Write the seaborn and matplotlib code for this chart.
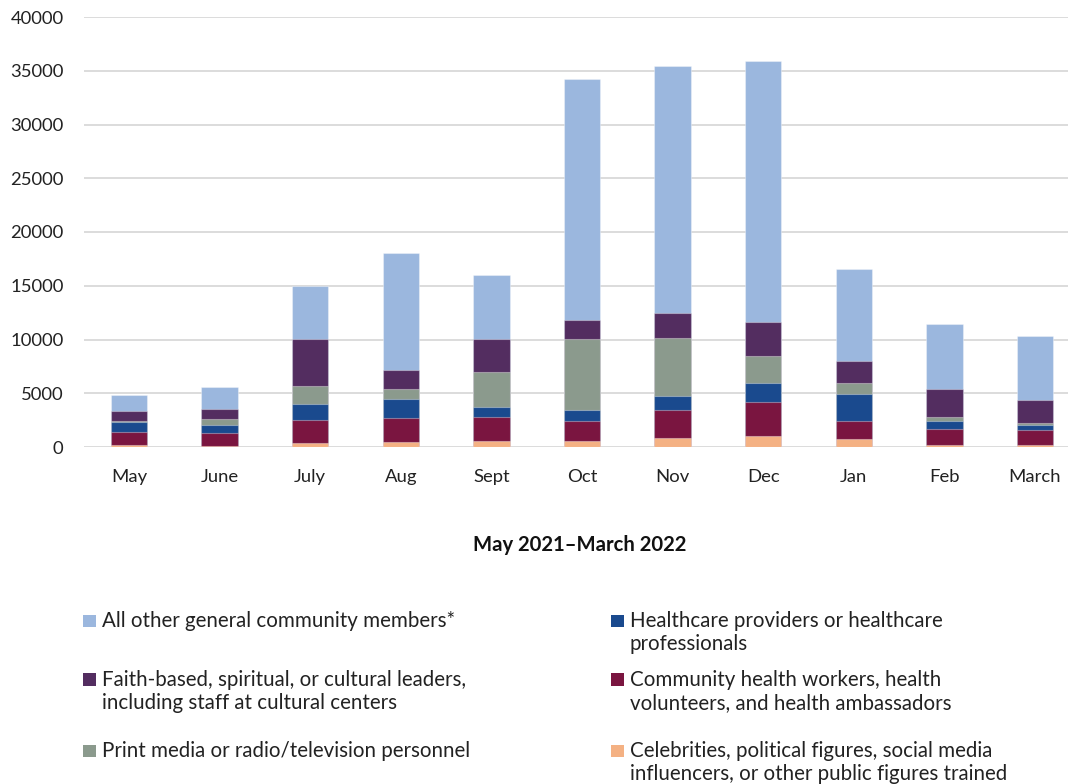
import numpy as np
import pandas as pd
import matplotlib
matplotlib.use("Agg")
import matplotlib.pyplot as plt
from matplotlib.patches import Rectangle
import seaborn as sns

months = ["May", "June", "July", "Aug", "Sept", "Oct", "Nov", "Dec", "Jan", "Feb", "March"]

# Groups reached per month (stacked bottom to top)
celebrities = [150, 60, 400, 460, 590, 560, 870, 1050, 710, 220, 220]
community_health = [1240, 1270, 2130, 2260, 2230, 1890, 2600, 3160, 1730, 1450, 1330]
healthcare = [930, 710, 1450, 1730, 900, 990, 1270, 1760, 2470, 710, 460]
print_media = [120, 590, 1700, 950, 3280, 6650, 5440, 2500, 1050, 370, 220]
faith_based = [930, 900, 4360, 1800, 3090, 1760, 2260, 3160, 2070, 2600, 2100]
general_community = [1450, 2040, 4980, 10800, 5880, 22350, 22990, 24310, 8570, 6120, 6030]

series_labels = [
    "Celebrities, political figures, social media\ninfluencers, or other public figures trained",
    "Community health workers, health\nvolunteers, and health ambassadors",
    "Healthcare providers or healthcare\nprofessionals",
    "Print media or radio/television personnel",
    "Faith-based, spiritual, or cultural leaders,\nincluding staff at cultural centers",
    "All other general community members*",
]
series_values = [celebrities, community_health, healthcare, print_media, faith_based, general_community]
series_colors = ["#F4B183", "#7A1540", "#1A4A8E", "#8B9A8D", "#532D60", "#9BB7DE"]

yticks = [0, 5000, 10000, 15000, 20000, 25000, 30000, 35000, 40000]
axis_title = "May 2021\u2013March 2022"

sns.set_theme(style="white")
plt.rcParams["font.family"] = ["Lato", "DejaVu Sans"]

W, H = 1068, 784
fig = plt.figure(figsize=(W / 100, H / 100), dpi=100)
ax = fig.add_axes([83.7 / W, 1 - 447 / H, 996.6 / W, (447 - 17) / H])

df = pd.DataFrame({"month": months})
cum = np.zeros(len(months))
cums = []
for vals in series_values:
    cum = cum + np.array(vals, dtype=float)
    cums.append(cum.copy())

# Draw cumulative totals from the tallest down so each layer shows its own band
for total, color in zip(reversed(cums), reversed(series_colors)):
    df["total"] = total
    sns.barplot(data=df, x="month", y="total", color=color, width=0.4,
                saturation=1, edgecolor=(1, 1, 1, 0.35), linewidth=0.8, ax=ax)

ax.set_xlim(-0.5, 10.5)
ax.set_ylim(0, 40000)
ax.set_yticks(yticks)
ax.set_yticklabels([str(t) for t in yticks])
ax.set_xlabel("")
ax.set_ylabel("")
ax.grid(axis="y", color="#D9D9D9", linewidth=1.3)
ax.grid(axis="x", visible=False)
ax.set_axisbelow(True)
for s in ax.spines.values():
    s.set_visible(False)
ax.tick_params(axis="both", length=0, labelsize=13.3, colors="#222222")
ax.tick_params(axis="y", pad=14.5)
ax.tick_params(axis="x", pad=15.5)

fig.text(580 / W, 1 - 545 / H, axis_title, ha="center", va="center",
         fontsize=14.6, fontweight="bold", color="#111111")

# Legend: two columns, swatch beside the first line of each entry
legend_order = [5, 4, 3, 2, 1, 0]
col_x = [83, 611]
row_baseline = [627, 685.5, 757]
line_pitch = 23.5
for k, idx in enumerate(legend_order):
    col, row = divmod(k, 3)
    x0 = col_x[col]
    b0 = row_baseline[row]
    fig.patches.append(Rectangle((x0 / W, 1 - b0 / H), 13 / W, 12.5 / H,
                                 transform=fig.transFigure, facecolor=series_colors[idx],
                                 edgecolor="none"))
    for i, line in enumerate(series_labels[idx].split("\n")):
        fig.text((x0 + 18.5) / W, 1 - (b0 + i * line_pitch) / H, line, ha="left",
                 va="baseline", fontsize=14.8, color="#222222")

fig.savefig("out.png", dpi=100)
